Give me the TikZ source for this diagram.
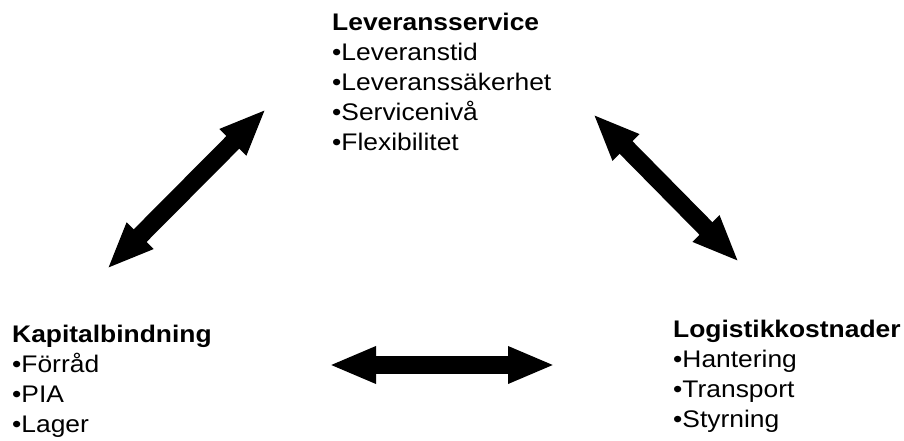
\documentclass[tikz,border=0pt]{standalone}
\usepackage{fontspec}
\setmainfont{Liberation Sans}[FakeStretch=1.1]
\usetikzlibrary{arrows.meta}
\begin{document}
\begin{tikzpicture}[x=1pt,y=1pt,
  block/.style={anchor=north west,inner sep=0pt,align=left,
    font=\fontsize{24}{30}\selectfont},
  bigarrow/.style={line width=18pt,
    {Triangle[width=34pt,length=47pt]}-{Triangle[width=34pt,length=47pt]}}]
\useasboundingbox (0,0) rectangle (904,440);
\node[block] (lev) at (332,427.2) {\textbf{Leveransservice}\\•Leveranstid\\•Leveranssäkerhet\\•Servicenivå\\•Flexibilitet};
\node[block] (kap) at (12,115.4) {\textbf{Kapitalbindning}\\•Förråd\\•PIA\\•Lager};
\node[block] (log) at (673,120.2) {\textbf{Logistikkostnader}\\•Hantering\\•Transport\\•Styrning};
\coordinate (a1) at (107,171);
\coordinate (a2) at (266,331);
\coordinate (b1) at (593,326);
\coordinate (b2) at (739,178);
\coordinate (c1) at (329,75);
\coordinate (c2) at (555,75);
\draw[bigarrow] (a1) -- (a2);
\draw[bigarrow] (b1) -- (b2);
\draw[bigarrow] (c1) -- (c2);
\end{tikzpicture}
\end{document}
